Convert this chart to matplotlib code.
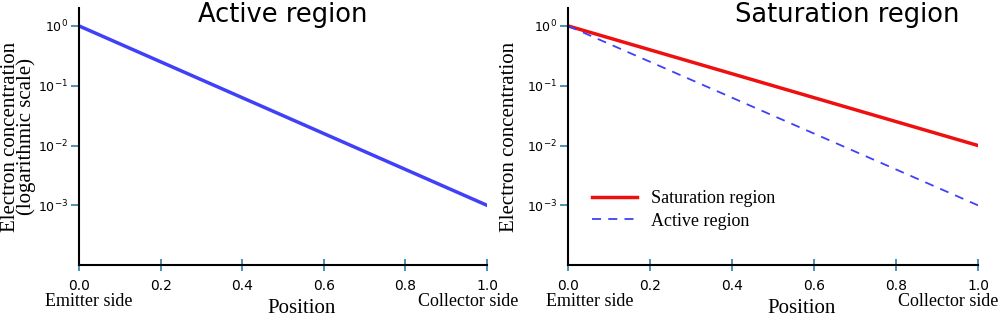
import numpy as np
import matplotlib
matplotlib.use("Agg")
import matplotlib.pyplot as plt

# data
position = [0.0, 1.0]
active_conc = [1.0, 1e-3]
saturation_conc = [1.0, 1e-2]
xticks = [0.0, 0.2, 0.4, 0.6, 0.8, 1.0]
yticks = [1e0, 1e-1, 1e-2, 1e-3]
ytick_labels = ["$10^{0}$", "$10^{-1}$", "$10^{-2}$", "$10^{-3}$"]

blue = "#4040f8"
red = "#ee1010"
tick_col = "#2f7fa8"
serif = "Liberation Serif"

fig = plt.figure(figsize=(10, 3.16), dpi=100)
ax1 = fig.add_axes([0.079, 0.161, 0.408, 0.814])
ax2 = fig.add_axes([0.568, 0.161, 0.410, 0.814])

for ax in (ax1, ax2):
    ax.set_yscale("log")
    ax.set_xlim(0, 1)
    ax.set_ylim(1e-4, 2)
    ax.spines["top"].set_visible(False)
    ax.spines["right"].set_visible(False)
    ax.spines["left"].set_linewidth(1.5)
    ax.spines["bottom"].set_linewidth(1.5)
    ax.set_xticks(xticks)
    ax.set_xticklabels([f"{t:.1f}" for t in xticks], fontsize=10)
    ax.set_yticks(yticks)
    ax.set_yticklabels(ytick_labels, fontsize=9)
    ax.yaxis.set_minor_locator(matplotlib.ticker.NullLocator())
    ax.tick_params(axis="x", direction="inout", length=8, width=1.2,
                   color=tick_col, pad=6)
    ax.tick_params(axis="y", direction="out", length=6, width=1.2,
                   color=tick_col, pad=2)
    ax.set_xlabel("Position", fontfamily=serif, fontsize=15)

ax1.xaxis.set_label_coords(0.545, -0.13)
ax2.xaxis.set_label_coords(0.57, -0.13)

ax1.text(0.025, -0.14, "Emitter side", transform=ax1.transAxes,
         fontfamily=serif, fontsize=13, ha="center", va="center")
ax1.text(1.076, -0.14, "Collector side", transform=ax1.transAxes,
         fontfamily=serif, fontsize=13, ha="right", va="center")
ax2.text(0.054, -0.14, "Emitter side", transform=ax2.transAxes,
         fontfamily=serif, fontsize=13, ha="center", va="center")
ax2.text(1.049, -0.14, "Collector side", transform=ax2.transAxes,
         fontfamily=serif, fontsize=13, ha="right", va="center")

ax1.plot(position, active_conc, color=blue, lw=2.5)
ax1.set_ylabel("Electron concentration\n(logarithmic scale)",
               fontfamily=serif, fontsize=15, linespacing=0.75)
ax1.yaxis.set_label_coords(-0.105, 0.5)
ax1.text(0.5, 0.9455, "Active region", transform=ax1.transAxes,
         fontsize=18.5, ha="center", va="baseline")

ax2.plot(position, saturation_conc, color=red, lw=2.5, label="Saturation region")
ax2.plot(position, active_conc, color=blue, lw=1.3, ls=(0, (5, 4)),
         label="Active region")
ax2.set_ylabel("Electron concentration", fontfamily=serif, fontsize=15)
ax2.yaxis.set_label_coords(-0.12, 0.5)
ax2.text(0.68, 0.9455, "Saturation region", transform=ax2.transAxes,
         fontsize=18.5, ha="center", va="baseline")
ax2.legend(loc="lower left", bbox_to_anchor=(0.018, 0.075), frameon=False,
           prop={"family": serif, "size": 13}, handlelength=2.5,
           labelspacing=0.3)

fig.savefig("out.png", dpi=100)
